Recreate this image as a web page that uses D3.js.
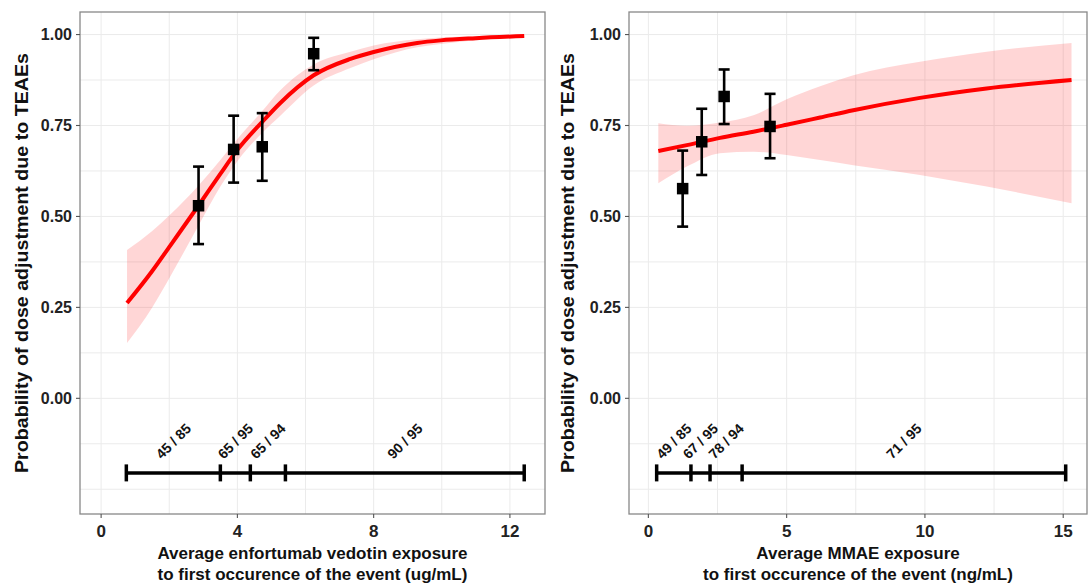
<!DOCTYPE html>
<html>
<head>
<meta charset="utf-8">
<script src="https://cdn.jsdelivr.net/npm/d3@7"></script>
<style>
  html, body { margin: 0; padding: 0; background: #fff; }
  svg { display: block; font-family: "Liberation Sans", Arial, Helvetica, sans-serif; }
</style>
</head>
<body>
<svg id="chart" width="1089" height="587"></svg>
<script>
// ---- shared axis values ----
const yTicks = [0, 0.25, 0.5, 0.75, 1.0];
const yTickLabels = ["0.00", "0.25", "0.50", "0.75", "1.00"];
const yMinor = [-0.25, -0.125, 0.125, 0.375, 0.625, 0.875];
const yTitle = "Probability of dose adjustment due to TEAEs";

// ---- enfortumab vedotin panel ----
const evTicks = [0, 4, 8, 12];
const evMinor = [2, 6, 10];
const evFitX   = [0.76, 1.50, 2.03, 2.86, 3.50, 4.00, 4.73, 5.26, 6.24, 7.32, 8.00, 9.28, 9.97, 11.00, 12.42];
const evFit    = [0.262, 0.350, 0.420, 0.530, 0.617, 0.683, 0.760, 0.812, 0.888, 0.933, 0.952, 0.977, 0.984, 0.990, 0.996];
const evLower  = [0.152, 0.250, 0.335, 0.475, 0.582, 0.652, 0.730, 0.777, 0.860, 0.908, 0.932, 0.965, 0.974, 0.984, 0.993];
const evUpper  = [0.408, 0.460, 0.505, 0.585, 0.655, 0.713, 0.790, 0.847, 0.918, 0.953, 0.970, 0.987, 0.992, 0.995, 0.998];
const evObsX   = [2.86, 3.89, 4.73, 6.24];
const evEvents = [45, 65, 65, 90];
const evTotals = [85, 95, 94, 95];
const evObsLo  = [0.424, 0.593, 0.598, 0.902];
const evObsHi  = [0.637, 0.777, 0.784, 0.991];
const evBreaks = [0.74, 3.50, 4.38, 5.41, 12.42];
const evTitle  = ["Average enfortumab vedotin exposure", "to first occurence of the event (ug/mL)"];

// ---- MMAE panel ----
const mmTicks = [0, 5, 10, 15];
const mmMinor = [2.5, 7.5, 12.5];
const mmFitX   = [0.36, 1.39, 2.59, 3.80, 5.00, 6.21, 7.41, 9.82, 12.23, 15.30];
const mmFit    = [0.680, 0.696, 0.716, 0.733, 0.752, 0.772, 0.792, 0.826, 0.852, 0.875];
const mmLower  = [0.591, 0.637, 0.674, 0.678, 0.669, 0.655, 0.641, 0.614, 0.582, 0.536];
const mmUpper  = [0.756, 0.749, 0.758, 0.778, 0.822, 0.858, 0.888, 0.925, 0.953, 0.977];
const mmObsX   = [1.24, 1.93, 2.74, 4.40];
const mmEvents = [49, 67, 78, 71];
const mmTotals = [85, 95, 94, 95];
const mmObsLo  = [0.472, 0.614, 0.754, 0.660];
const mmObsHi  = [0.681, 0.796, 0.904, 0.837];
const mmBreaks = [0.30, 1.54, 2.23, 3.39, 15.09];
const mmTitle  = ["Average MMAE exposure", "to first occurence of the event (ng/mL)"];

const svg = d3.select("#chart");
svg.append("rect").attr("width", 1089).attr("height", 587).attr("fill", "#fff");

const yDomain = [-0.318, 1.062];
const quartileY = -0.205;
const countLabelY = -0.118;

function drawPanel(cfg) {
  const { left, right, top, bottom } = cfg.box;
  const x = d3.scaleLinear().domain(cfg.xDomain).range([left, right]);
  const y = d3.scaleLinear().domain(yDomain).range([bottom, top]);
  const g = svg.append("g");

  // grid
  const grid = g.append("g").attr("stroke", "#ebebeb").attr("stroke-width", 1);
  cfg.minorX.concat(cfg.ticks).forEach(v => {
    grid.append("line").attr("x1", x(v)).attr("x2", x(v)).attr("y1", top).attr("y2", bottom);
  });
  yMinor.concat(yTicks).forEach(v => {
    grid.append("line").attr("x1", left).attr("x2", right).attr("y1", y(v)).attr("y2", y(v));
  });

  // fitted curve with confidence band
  const fitRows = cfg.fitX.map((v, i) => ({ x: v, p: cfg.fit[i], lo: cfg.lower[i], hi: cfg.upper[i] }));
  g.append("path")
    .datum(fitRows)
    .attr("d", d3.area().x(d => x(d.x)).y0(d => y(d.lo)).y1(d => y(d.hi)).curve(d3.curveMonotoneX))
    .attr("fill", "#ff0000").attr("fill-opacity", 0.16);
  g.append("path")
    .datum(fitRows)
    .attr("d", d3.line().x(d => x(d.x)).y(d => y(d.p)).curve(d3.curveMonotoneX))
    .attr("fill", "none").attr("stroke", "#ff0000").attr("stroke-width", 4);

  // observed proportions with error bars
  const obs = cfg.obsX.map((v, i) => ({ x: v, p: cfg.events[i] / cfg.totals[i], lo: cfg.obsLo[i], hi: cfg.obsHi[i] }));
  const eb = g.append("g").attr("stroke", "#000").attr("stroke-width", 2.6).attr("fill", "none");
  obs.forEach(d => {
    eb.append("line").attr("x1", x(d.x)).attr("x2", x(d.x)).attr("y1", y(d.lo)).attr("y2", y(d.hi));
    eb.append("line").attr("x1", x(d.x) - 5.5).attr("x2", x(d.x) + 5.5).attr("y1", y(d.lo)).attr("y2", y(d.lo));
    eb.append("line").attr("x1", x(d.x) - 5.5).attr("x2", x(d.x) + 5.5).attr("y1", y(d.hi)).attr("y2", y(d.hi));
  });
  const sq = 11.5;
  g.selectAll("rect.obs").data(obs).enter().append("rect")
    .attr("x", d => x(d.x) - sq / 2).attr("y", d => y(d.p) - sq / 2)
    .attr("width", sq).attr("height", sq).attr("fill", "#000");

  // exposure quartile bar with event counts
  const qb = g.append("g").attr("stroke", "#000").attr("stroke-width", 3.5);
  qb.append("line")
    .attr("x1", x(cfg.breaks[0])).attr("x2", x(cfg.breaks[cfg.breaks.length - 1]))
    .attr("y1", y(quartileY)).attr("y2", y(quartileY));
  cfg.breaks.forEach(b => {
    qb.append("line").attr("x1", x(b)).attr("x2", x(b))
      .attr("y1", y(quartileY) - 8.5).attr("y2", y(quartileY) + 8.5);
  });
  cfg.events.forEach((e, i) => {
    const mx = x((cfg.breaks[i] + cfg.breaks[i + 1]) / 2);
    const my = y(countLabelY);
    g.append("text")
      .attr("transform", `translate(${mx},${my}) rotate(-45)`)
      .attr("text-anchor", "middle").attr("dy", "0.35em")
      .attr("font-size", 14).attr("font-weight", "bold").attr("fill", "#111")
      .text(`${e} / ${cfg.totals[i]}`);
  });

  // panel border
  g.append("rect").attr("x", left).attr("y", top).attr("width", right - left).attr("height", bottom - top)
    .attr("fill", "none").attr("stroke", "#888").attr("stroke-width", 1.3);

  // y axis ticks and labels
  yTicks.forEach((v, i) => {
    g.append("line").attr("x1", left - 4).attr("x2", left).attr("y1", y(v)).attr("y2", y(v))
      .attr("stroke", "#555").attr("stroke-width", 1.1);
    g.append("text").attr("x", left - 8).attr("y", y(v)).attr("dy", "0.36em")
      .attr("text-anchor", "end").attr("font-size", 16).attr("font-weight", "bold").attr("fill", "#222")
      .text(yTickLabels[i]);
  });

  // x axis ticks and labels
  cfg.ticks.forEach(v => {
    g.append("line").attr("x1", x(v)).attr("x2", x(v)).attr("y1", bottom).attr("y2", bottom + 4)
      .attr("stroke", "#555").attr("stroke-width", 1.1);
    g.append("text").attr("x", x(v)).attr("y", bottom + 23)
      .attr("text-anchor", "middle").attr("font-size", 17).attr("font-weight", "bold").attr("fill", "#222")
      .text(v);
  });

  // axis titles
  const cx = (left + right) / 2;
  cfg.title.forEach((line, i) => {
    g.append("text").attr("x", cx).attr("y", 559 + i * 21)
      .attr("text-anchor", "middle").attr("font-size", 17).attr("font-weight", "bold").attr("fill", "#111")
      .text(line);
  });
  g.append("text")
    .attr("transform", `translate(${cfg.yTitleX},${(top + bottom) / 2}) rotate(-90)`)
    .attr("text-anchor", "middle").attr("dy", "0.35em")
    .attr("font-size", 18).attr("font-weight", "bold").attr("fill", "#111")
    .attr("textLength", 420).attr("lengthAdjust", "spacingAndGlyphs")
    .text(yTitle);
}

drawPanel({
  box: { left: 80, right: 545, top: 12, bottom: 514 },
  xDomain: [-0.62, 13.03], ticks: evTicks, minorX: evMinor,
  fitX: evFitX, fit: evFit, lower: evLower, upper: evUpper,
  obsX: evObsX, events: evEvents, totals: evTotals, obsLo: evObsLo, obsHi: evObsHi,
  breaks: evBreaks, title: evTitle, yTitleX: 22
});

drawPanel({
  box: { left: 629, right: 1087, top: 12, bottom: 514 },
  xDomain: [-0.70, 15.86], ticks: mmTicks, minorX: mmMinor,
  fitX: mmFitX, fit: mmFit, lower: mmLower, upper: mmUpper,
  obsX: mmObsX, events: mmEvents, totals: mmTotals, obsLo: mmObsLo, obsHi: mmObsHi,
  breaks: mmBreaks, title: mmTitle, yTitleX: 568
});
</script>
</body>
</html>
